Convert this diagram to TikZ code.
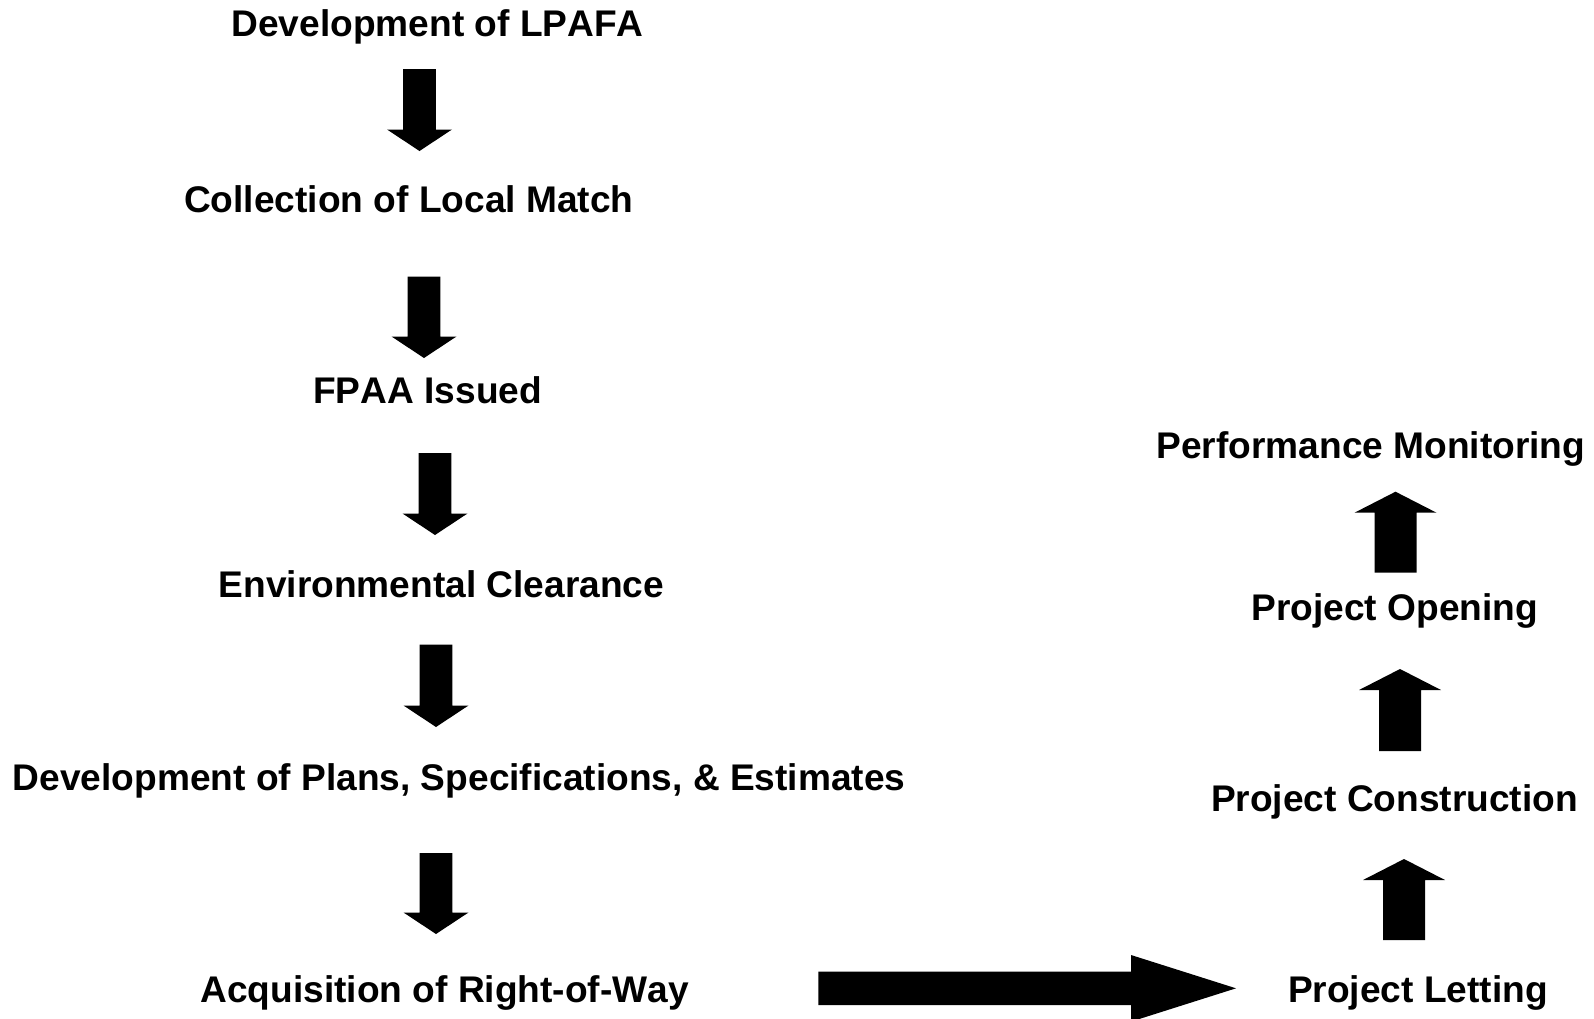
\documentclass[tikz,border=0pt]{standalone}
\usepackage{fontspec}
\setmainfont{Liberation Sans}[Kerning=Off]
\begin{document}
\begin{tikzpicture}[x=1pt,y=-1pt,
  lbl/.style={anchor=base west,inner sep=0pt,outer sep=0pt,font=\fontsize{37.1}{44}\selectfont\bfseries},
  blk/.style={fill=black}]
\useasboundingbox (0,0) rectangle (1594,1018);
\clip (0,0) rectangle (1594,1018);
\newcommand\dnarr[3]{\fill[blk] (#1-16.3,#2) -- (#1+16.3,#2) -- (#1+16.3,#3-21.5) -- (#1+32.5,#3-21.5) -- (#1,#3) -- (#1-32.5,#3-21.5) -- (#1-16.3,#3-21.5) -- cycle;}
\newcommand\uparr[3]{\fill[blk] (#1-21,#3) -- (#1+21,#3) -- (#1+21,#2+21) -- (#1+41,#2+21) -- (#1,#2) -- (#1-41,#2+21) -- (#1-21,#2+21) -- cycle;}
% labels
\node[lbl] (t1) at (231.5,36.7) {Development of LPAFA};
\node[lbl] (t2) at (184.2,212.7) {Collection of Local Match};
\node[lbl] (t3) at (313.2,403.3) {FPAA Issued};
\node[lbl] (t4) at (218.8,597) {Environmental Clearance};
\node[lbl] (t5) at (12.8,790) {Development of Plans, Specifications, \& Estimates};
\node[lbl] (t6) at (200.5,1002.3) {Acquisition of Right-of-Way};
\node[lbl] (t7) at (1156.5,458.3) {Performance Monitoring};
\node[lbl] (t8) at (1251.5,620) {Project Opening};
\node[lbl] (t9) at (1211,811) {Project Construction};
\node[lbl] (t10) at (1288,1002.3) {Project Letting};
% down arrows
\dnarr{419.5}{69}{151}
\dnarr{424}{276.5}{358}
\dnarr{435}{453}{535}
\dnarr{436}{644.5}{727}
\dnarr{436}{853}{934}
% up arrows
\uparr{1395.5}{491.7}{572.7}
\uparr{1400}{669}{751}
\uparr{1404}{859}{940}
% horizontal arrow
\fill[blk] (818.3,971.7) -- (1131,971.7) -- (1131,955) -- (1236,988.3) -- (1131,1021.6) -- (1131,1005) -- (818.3,1005) -- cycle;
\end{tikzpicture}
\end{document}
